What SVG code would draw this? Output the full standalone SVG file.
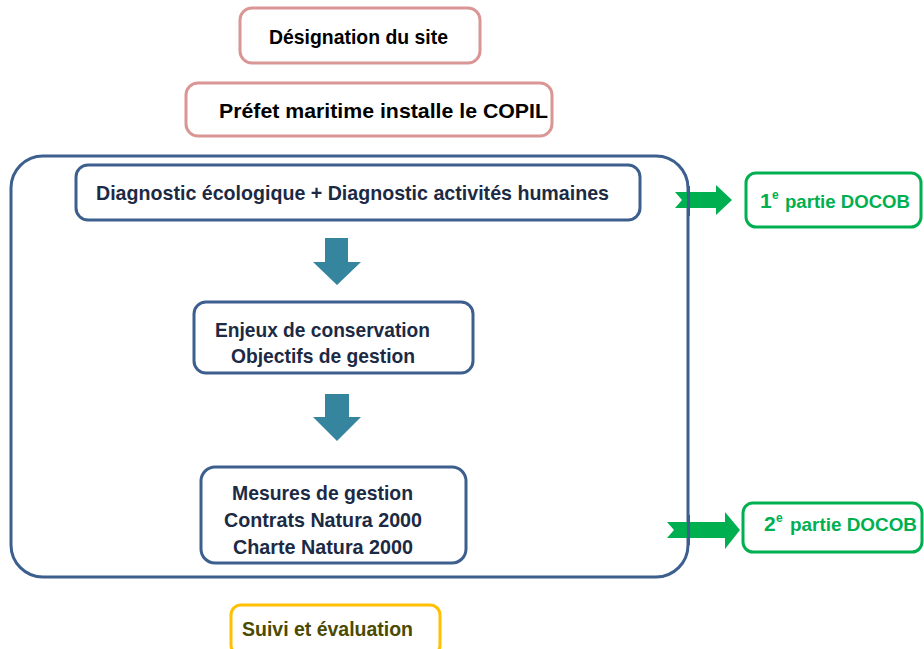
<svg xmlns="http://www.w3.org/2000/svg" width="924" height="649" viewBox="0 0 924 649">
<style>
.t{font-family:"Liberation Sans",Arial,sans-serif;font-weight:bold;font-size:21px;}
.d{font-family:"Liberation Sans",Arial,sans-serif;font-weight:bold;font-size:19px;}
.sup{font-family:"Liberation Sans",Arial,sans-serif;font-weight:bold;font-size:12px;}
.pink{fill:#fff;stroke:#d99694;stroke-width:3;}
.blue{fill:#fff;stroke:#3c5f8e;stroke-width:3;}
.green{fill:#fff;stroke:#00b050;stroke-width:3;}
.navy{fill:#1c2a44;}
.gtxt{fill:#00b050;}
.teal{fill:#34859d;}
.garrow{fill:#00b050;}
</style>
<rect width="924" height="649" fill="#fff"/>
<g id="container">
<rect class="blue" x="11" y="156" width="677" height="421" rx="32"/>
</g>
<g id="designation">
<rect class="pink" x="240" y="8" width="240" height="55" rx="12"/>
<text class="t" x="269" y="44" textLength="179" lengthAdjust="spacingAndGlyphs">Désignation du site</text>
</g>
<g id="prefet">
<rect class="pink" x="186" y="83" width="366" height="53" rx="12"/>
<text class="t" x="219" y="118" textLength="329" lengthAdjust="spacingAndGlyphs">Préfet maritime installe le COPIL</text>
</g>
<g id="diagnostic">
<rect class="blue" x="76" y="165" width="564" height="55" rx="12"/>
<text class="t navy" x="96" y="200" textLength="513" lengthAdjust="spacingAndGlyphs">Diagnostic écologique  +  Diagnostic activités humaines</text>
</g>
<g id="enjeux">
<rect class="blue" x="194" y="302" width="279" height="71" rx="12"/>
<text class="t navy" x="215" y="337" textLength="215" lengthAdjust="spacingAndGlyphs">Enjeux de conservation</text>
<text class="t navy" x="231" y="363" textLength="184" lengthAdjust="spacingAndGlyphs">Objectifs de gestion</text>
</g>
<g id="mesures">
<rect class="blue" x="201" y="467" width="265" height="96" rx="14"/>
<text class="t navy" x="232" y="500" textLength="181" lengthAdjust="spacingAndGlyphs">Mesures de gestion</text>
<text class="t navy" x="224" y="527" textLength="198" lengthAdjust="spacingAndGlyphs">Contrats Natura 2000</text>
<text class="t navy" x="233" y="554" textLength="180" lengthAdjust="spacingAndGlyphs">Charte Natura 2000</text>
</g>
<g id="docob1">
<rect class="green" x="746" y="173" width="175" height="54" rx="10"/>
<text class="t gtxt" x="760" y="208">1</text>
<text class="sup gtxt" x="772" y="199">e</text>
<text class="d gtxt" x="785" y="208" textLength="125" lengthAdjust="spacingAndGlyphs">partie DOCOB</text>
</g>
<g id="docob2">
<rect class="green" x="743" y="503" width="179" height="49" rx="10"/>
<text class="t gtxt" x="764" y="531">2</text>
<text class="sup gtxt" x="776" y="522">e</text>
<text class="d gtxt" x="790" y="531" textLength="127" lengthAdjust="spacingAndGlyphs">partie DOCOB</text>
</g>
<g id="suivi">
<rect x="231" y="605" width="209" height="50" rx="10" fill="#fff" stroke="#ffc000" stroke-width="3"/>
<text class="t" fill="#4a4a00" x="242" y="636" textLength="171" lengthAdjust="spacingAndGlyphs">Suivi et évaluation</text>
</g>
<g id="connectors">
<polygon class="teal" points="325,238 348,238 348,262 361,262 337,285 313,262 325,262"/>
<polygon class="teal" points="325,394 349,394 349,417 361,417 337,441 313,417 325,417"/>
<polygon class="garrow" points="675,192 716,192 716,185 732,200 716,215 716,208 675,208 682,200"/>
<polygon class="garrow" points="667,522 725,522 725,512 740,530 725,549 725,538 667,538 674,530"/>
<line x1="688.5" y1="186" x2="688.5" y2="216" stroke="#3c5f8e" stroke-width="3"/>
<line x1="688.5" y1="515" x2="688.5" y2="545" stroke="#3c5f8e" stroke-width="3"/>
</g>
</svg>
